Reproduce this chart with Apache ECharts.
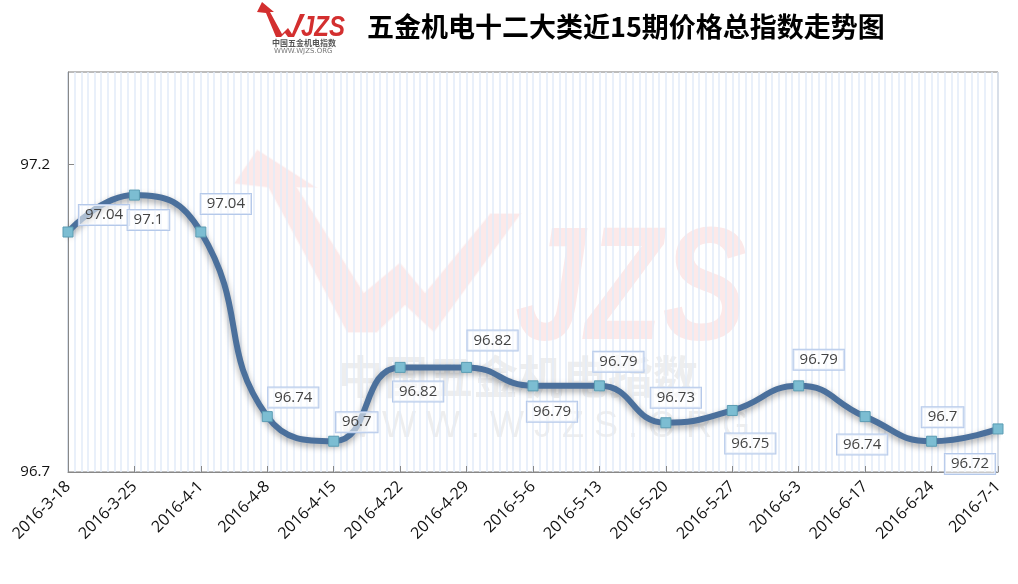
<!DOCTYPE html>
<html>
<head>
<meta charset="utf-8">
<script src="https://cdn.jsdelivr.net/npm/echarts@6/dist/echarts.min.js"></script>
<style>html,body{margin:0;padding:0;background:#fff}#c{width:1018px;height:584px}</style>
</head>
<body>
<div id="c"></div>
<script>
const categories = ['2016-3-18','2016-3-25','2016-4-1','2016-4-8','2016-4-15','2016-4-22','2016-4-29','2016-5-6','2016-5-13','2016-5-20','2016-5-27','2016-6-3','2016-6-17','2016-6-24','2016-7-1'];
const values = [97.04,97.1,97.04,96.74,96.7,96.82,96.82,96.79,96.79,96.73,96.75,96.79,96.74,96.7,96.72];
// y tick positions as drawn in the reference and the text printed at them
const yTickValues = [96.65, 97.15];
const yTickLabels = ['96.7', '97.2'];
const titleText = '五金机电十二大类近15期价格总指数走势图';
const labelOffsets = [[36,-17],[14,25],[25,-28],[26,-19],[23,-19],[18,24],[26,-27],[19,26],[19,-24],[10,-25],[18,33],[20,-26],[-3,28],[11,-24],[-28,35]];

const chart = echarts.init(document.getElementById('c'), null, {renderer: 'canvas'});

const wmRed = 'rgba(232,110,110,0.15)';
const wmGray = 'rgba(170,170,170,0.2)';

const option = {
  backgroundColor: '#fff',
  animation: false,
  title: {
    text: titleText,
    left: 362, top: 8,
    textStyle: {fontSize: 27, fontWeight: 'bold', fontFamily: 'Noto Sans CJK SC', color: '#000'}
  },
  graphic: [
    // background watermark
    {type: 'polygon', z: -10, silent: true,
      shape: {points: [[257,149],[318,188],[298,188],[364,292],[400,262],[425,292],[490,213],[522,213],[434,333],[405,306],[377,333],[347,333],[268,188],[233,184]]},
      style: {fill: wmRed, stroke: 'rgba(255,255,255,0.6)', lineWidth: 2}},
    {type: 'text', z: -10, silent: true, x: 515, y: 213, scaleX: 0.78,
      style: {text: 'JZS', font: 'italic bold 162px "Liberation Sans"', fill: wmRed, stroke: 'rgba(255,255,255,0.6)', lineWidth: 2, textVerticalAlign: 'top'}},
    {type: 'text', z: -10, silent: true, x: 338, y: 377,
      style: {text: '中国五金机电指数', font: 'bold 45px "Noto Sans CJK SC"', fill: wmGray, textVerticalAlign: 'middle'}},
    {type: 'text', z: -10, silent: true, x: 338, y: 427,
      style: {text: 'W W W . W J Z S . O R G', font: '36px "Liberation Sans"', fill: wmGray, textVerticalAlign: 'middle'}},
    // header logo
    {type: 'polygon', silent: true,
      shape: {points: [[262,2],[274,12],[270,12],[282,34],[288,28],[292,34],[300,14],[305,14],[294,37],[288,37],[285,33],[281,37],[276,37],[266,13],[257,12]]},
      style: {fill: '#d32f2f'}},
    {type: 'text', silent: true, x: 301, y: 13, scaleX: 0.8,
      style: {text: 'JZS', font: 'italic bold 30px "Liberation Sans"', fill: '#d32f2f', textVerticalAlign: 'top'}},
    {type: 'text', silent: true, x: 272, y: 43,
      style: {text: '中国五金机电指数', font: 'bold 8px "Noto Sans CJK SC"', fill: '#555', textVerticalAlign: 'middle'}},
    {type: 'text', silent: true, x: 274, y: 51,
      style: {text: 'WWW.WJZS.ORG', font: '7px "DejaVu Sans"', fill: '#777', textVerticalAlign: 'middle'}}
  ],
  grid: {left: 68, right: 20, top: 72, bottom: 112, show: true, borderColor: '#7a7a7a', borderWidth: 1, backgroundColor: 'transparent'},
  xAxis: [
    {
      type: 'category', data: categories, boundaryGap: false,
      axisLine: {lineStyle: {color: '#888', width: 1}},
      axisTick: {inside: true, length: 6, lineStyle: {color: '#888'}},
      axisLabel: {rotate: 45, margin: 12, fontSize: 16, color: '#111', fontFamily: 'Open Sans'},
      splitLine: {show: false}
    },
    {
      type: 'value', min: 0, max: 140, interval: 1, position: 'top',
      axisLine: {show: false}, axisTick: {show: false}, axisLabel: {show: false},
      splitLine: {show: true, lineStyle: {color: '#e2ebf8', width: 1.5}}
    }
  ],
  yAxis: {
    type: 'value', min: 96.65, max: 97.3, interval: 0.5,
    axisLine: {show: true, lineStyle: {color: '#888'}},
    axisTick: {show: true, inside: true, length: 6, lineStyle: {color: '#888'}},
    axisLabel: {
      showMaxLabel: false, margin: 18, fontSize: 15, color: '#111', fontFamily: 'Open Sans',
      formatter: function (v) {
        for (let i = 0; i < yTickValues.length; i++) {
          if (Math.abs(v - yTickValues[i]) < 1e-6) return yTickLabels[i];
        }
        return '';
      }
    },
    splitLine: {show: false}
  },
  series: [{
    type: 'line', xAxisIndex: 0,
    data: values.map((v, i) => ({
      value: v,
      label: {offset: labelOffsets[i]}
    })),
    smooth: 0.5,
    lineStyle: {color: '#4b709c', width: 6, shadowColor: 'rgba(0,0,0,0.35)', shadowBlur: 6, shadowOffsetY: 3},
    symbol: 'rect', symbolSize: 10,
    itemStyle: {color: '#7cbdd2', borderColor: '#5b9cb3', borderWidth: 1},
    label: {
      show: true, position: 'inside',
      formatter: p => String(p.value),
      fontSize: 15, color: '#444', fontFamily: 'Open Sans',
      borderColor: '#b5c9ea', borderWidth: 1, padding: [3, 6, 2, 6],
      backgroundColor: 'rgba(255,255,255,0.55)'
    },
    z: 5
  }]
};
chart.setOption(option);
</script>
</body>
</html>
